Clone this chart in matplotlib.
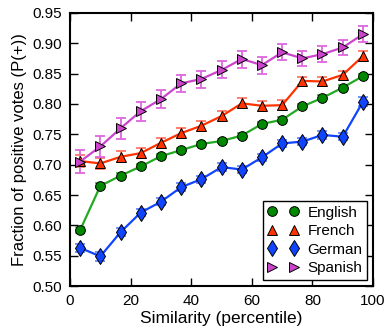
import matplotlib
matplotlib.use("Agg")
import matplotlib.pyplot as plt
from matplotlib.lines import Line2D

plt.rcParams['font.family'] = ['Liberation Sans', 'DejaVu Sans']

# similarity percentile bins (15 bins, centres)
similarity = [3.3, 10.0, 16.7, 23.3, 30.0, 36.7, 43.3, 50.0, 56.7, 63.3, 70.0, 76.7, 83.3, 90.0, 96.7]

english = [0.592, 0.665, 0.682, 0.697, 0.714, 0.724, 0.734, 0.739, 0.748, 0.767, 0.774, 0.796, 0.810, 0.827, 0.846]
english_err = [0.005, 0.004, 0.004, 0.004, 0.004, 0.004, 0.004, 0.004, 0.004, 0.004, 0.004, 0.004, 0.004, 0.004, 0.004]

french = [0.706, 0.702, 0.713, 0.719, 0.736, 0.752, 0.764, 0.780, 0.801, 0.797, 0.798, 0.838, 0.837, 0.848, 0.879]
french_err = [0.010, 0.009, 0.009, 0.008, 0.008, 0.008, 0.008, 0.008, 0.008, 0.008, 0.008, 0.007, 0.007, 0.007, 0.008]

german = [0.563, 0.549, 0.589, 0.621, 0.639, 0.663, 0.676, 0.696, 0.692, 0.712, 0.735, 0.738, 0.749, 0.746, 0.804]
german_err = [0.007, 0.007, 0.007, 0.006, 0.006, 0.006, 0.006, 0.006, 0.006, 0.006, 0.006, 0.006, 0.006, 0.006, 0.007]

spanish = [0.705, 0.730, 0.760, 0.788, 0.808, 0.834, 0.841, 0.856, 0.874, 0.864, 0.885, 0.875, 0.882, 0.893, 0.915]
spanish_err = [0.019, 0.018, 0.017, 0.016, 0.015, 0.014, 0.014, 0.014, 0.014, 0.014, 0.013, 0.013, 0.013, 0.013, 0.013]

series = [
    ("English", english, english_err, "o", "#008800", "#22aa22", "#55bb55", 7),
    ("French", french, french_err, "^", "#ff3300", "#ff3300", "#ff7766", 7.5),
    ("German", german, german_err, "d", "#1144ff", "#1144ff", "#6688ff", 8.5),
    ("Spanish", spanish, spanish_err, ">", "#cc44cc", "#cc44cc", "#dd66dd", 7.5),
]

fig = plt.figure(figsize=(3.87, 3.30), dpi=100)
ax = fig.add_axes([0.181, 0.133, 0.783, 0.828])

handles = []
for name, vals, errs, mk, fc, lc, ec, ms in series:
    ax.errorbar(similarity, vals, yerr=errs, fmt="none", ecolor=ec,
                elinewidth=1.3, capsize=3.5, capthick=1.3, zorder=2)
    ax.plot(similarity, vals, color=lc, linewidth=1.6, marker=mk,
            markersize=ms, markerfacecolor=fc, markeredgecolor="black",
            markeredgewidth=0.7, zorder=3)
    handles.append(Line2D([], [], linestyle="none", marker=mk, markersize=ms,
                          markerfacecolor=fc, markeredgecolor="black",
                          markeredgewidth=0.7, label=name))

ax.set_xlim(0, 100)
ax.set_ylim(0.50, 0.95)
ax.set_xticks([0, 20, 40, 60, 80, 100])
ax.set_yticks([0.50, 0.55, 0.60, 0.65, 0.70, 0.75, 0.80, 0.85, 0.90, 0.95])
ax.set_yticklabels(["%.2f" % v for v in ax.get_yticks()])
ax.tick_params(direction="in", length=6, width=1, top=True, right=True,
               labelsize=11, pad=6)
for sp in ax.spines.values():
    sp.set_linewidth(1.5)

ax.set_xlabel("Similarity (percentile)", fontsize=12.5, labelpad=2)
ax.set_ylabel("Fraction of positive votes (P(+))", fontsize=12, labelpad=4)

leg = ax.legend(handles=handles, loc="lower right", numpoints=2, fontsize=11,
                fancybox=False, framealpha=1, edgecolor="black",
                handlelength=2.0, borderpad=0.3, labelspacing=0.3,
                handletextpad=0.6, borderaxespad=0.4)
leg.get_frame().set_linewidth(1.0)

fig.savefig("out.png", dpi=100)
